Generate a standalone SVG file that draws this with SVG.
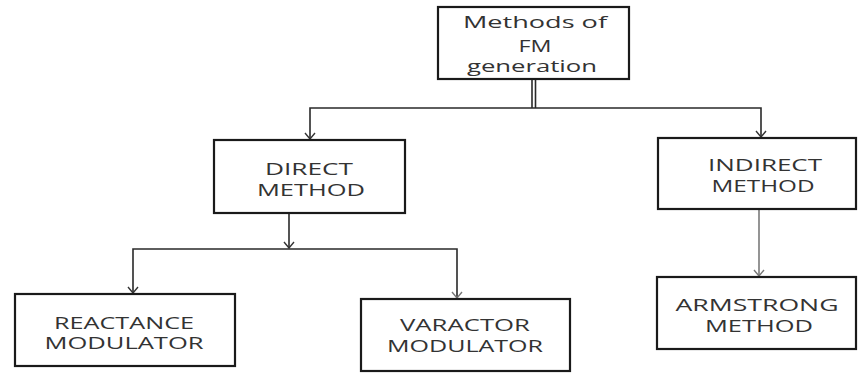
<svg xmlns="http://www.w3.org/2000/svg" width="858" height="374" viewBox="0 0 858 374">
<defs>
<style>
.box{fill:#fff;stroke:#1a1a1a;stroke-width:2.2}
.t{font-family:"Open Sans","DejaVu Sans",sans-serif;font-size:16px;fill:#333;text-anchor:middle}
.c{fill:none;stroke:#2a2a2a;stroke-width:1.6}
.g{fill:none;stroke:#7a7a7a;stroke-width:1.6}
</style>
<marker id="ah" viewBox="0 0 8 12" refX="7" refY="6" markerWidth="8" markerHeight="12" markerUnits="userSpaceOnUse" orient="auto">
<path d="M1,1 L7,6 L1,11" fill="none" stroke="#333" stroke-width="1.4"/>
</marker>
<marker id="ahg" viewBox="0 0 8 12" refX="7" refY="6" markerWidth="8" markerHeight="12" markerUnits="userSpaceOnUse" orient="auto">
<path d="M1,1 L7,6 L1,11" fill="none" stroke="#777" stroke-width="1.4"/>
</marker>
</defs>
<rect width="858" height="374" fill="#fff"/>
<g id="connectors">
<line class="c" x1="532" y1="79" x2="532" y2="108"/>
<line class="c" x1="535.5" y1="79" x2="535.5" y2="108"/>
<path class="c" d="M535,108 L310,108 L310,139" marker-end="url(#ah)"/>
<path class="c" d="M535,108 L761,108 L761,137" marker-end="url(#ah)"/>
<path class="c" d="M289,213 L289,248" marker-end="url(#ah)"/>
<path class="c" d="M289,249 L133,249 L133,293" marker-end="url(#ah)"/>
<path class="c" d="M289,249 L457,249 L457,298" marker-end="url(#ahg)"/>
<path class="g" d="M759,209 L759,276" marker-end="url(#ahg)"/>
</g>
<g id="node-fm">
<rect class="box" x="438" y="7" width="191" height="72"/>
<text class="t" x="535" y="28" textLength="144" lengthAdjust="spacingAndGlyphs">Methods of</text>
<text class="t" x="535" y="52" textLength="33" lengthAdjust="spacingAndGlyphs">FM</text>
<text class="t" x="532" y="72" textLength="130" lengthAdjust="spacingAndGlyphs">generation</text>
</g>
<g id="node-direct">
<rect class="box" x="214" y="140" width="191" height="73"/>
<text class="t" x="309" y="175" textLength="88" lengthAdjust="spacingAndGlyphs">DIRECT</text>
<text class="t" x="311" y="196" textLength="108" lengthAdjust="spacingAndGlyphs">METHOD</text>
</g>
<g id="node-indirect">
<rect class="box" x="658" y="138" width="198" height="71"/>
<text class="t" x="765" y="171" textLength="114" lengthAdjust="spacingAndGlyphs">INDIRECT</text>
<text class="t" x="763" y="192" textLength="103" lengthAdjust="spacingAndGlyphs">METHOD</text>
</g>
<g id="node-reactance">
<rect class="box" x="15" y="294" width="220" height="72"/>
<text class="t" x="124" y="329" textLength="140" lengthAdjust="spacingAndGlyphs">REACTANCE</text>
<text class="t" x="124" y="349" textLength="159" lengthAdjust="spacingAndGlyphs">MODULATOR</text>
</g>
<g id="node-varactor">
<rect class="box" x="361" y="299" width="209" height="72"/>
<text class="t" x="465" y="331" textLength="130" lengthAdjust="spacingAndGlyphs">VARACTOR</text>
<text class="t" x="465" y="352" textLength="156" lengthAdjust="spacingAndGlyphs">MODULATOR</text>
</g>
<g id="node-armstrong">
<rect class="box" x="657" y="277" width="199" height="72"/>
<text class="t" x="757" y="311" textLength="163" lengthAdjust="spacingAndGlyphs">ARMSTRONG</text>
<text class="t" x="759" y="332" textLength="108" lengthAdjust="spacingAndGlyphs">METHOD</text>
</g>
</svg>
